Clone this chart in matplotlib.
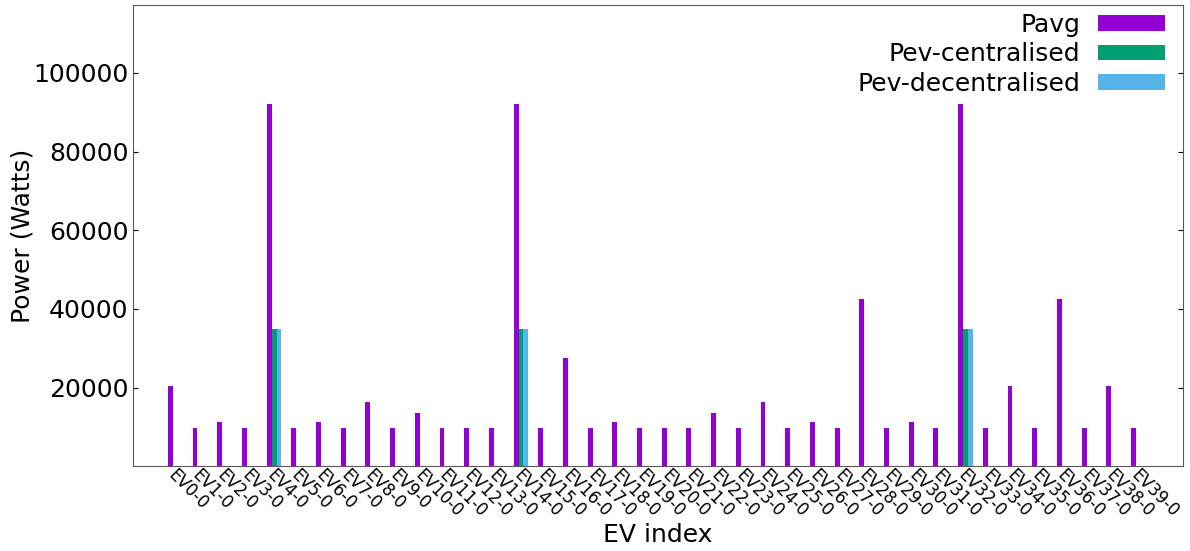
import numpy as np
import matplotlib
matplotlib.use('Agg')
import matplotlib.pyplot as plt
import matplotlib.transforms as mtransforms

# Per-EV power values
EV_LABELS = ["EV%d-0" % i for i in range(40)]

PAVG = [20500, 9800, 11200, 9800, 92000, 9800, 11200, 9800, 16200, 9800,
        13400, 9800, 9800, 9800, 92000, 9800, 27500, 9800, 11200, 9800,
        9800, 9800, 13400, 9800, 16200, 9800, 11200, 9800, 42400, 9800,
        11200, 9800, 92000, 9800, 20500, 9800, 42400, 9800, 20500, 9800]

PEV_CENTRAL = [0] * 40
PEV_DECENTRAL = [0] * 40
for k in (4, 14, 32):
    PEV_CENTRAL[k] = 35000
    PEV_DECENTRAL[k] = 35000

COLORS = ['#9400D3', '#009E73', '#56B4E9']
NAMES = ['Pavg', 'Pev-centralised', 'Pev-decentralised']

fig = plt.figure(figsize=(11.9, 5.51), dpi=100)
ax = fig.add_axes([0.112, 0.154, 0.882, 0.837])

x = np.arange(len(EV_LABELS))
w = 0.2
for off, vals, c, name in zip([0, w, 2 * w], [PAVG, PEV_CENTRAL, PEV_DECENTRAL], COLORS, NAMES):
    ax.bar(x + off, vals, width=w, color=c, label=name)

ax.set_xlim(-1.5, 41)
ax.set_ylim(0, 117300)
ax.set_yticks([20000, 40000, 60000, 80000, 100000])
ax.set_xticks(x)
ax.set_xticklabels(EV_LABELS, rotation=-45, ha='left', fontsize=12)
ax.tick_params(axis='y', labelsize=18, direction='in', right=True)
ax.tick_params(axis='x', direction='in', length=0, pad=2)
# nudge the rotated labels so they hug the axis like the original
shift = mtransforms.ScaledTranslation(-0.06, 0.03, fig.dpi_scale_trans)
for tick in ax.xaxis.get_major_ticks():
    tick.label1.set_transform(tick.label1.get_transform() + shift)
for s in ax.spines.values():
    s.set_color('0.35')

ax.set_xlabel('EV index', fontsize=18, labelpad=1.5)
ax.set_ylabel('Power (Watts)', fontsize=18, labelpad=-1)

ax.legend(loc='upper right', bbox_to_anchor=(0.983, 0.983), fontsize=18,
          frameon=False, markerfirst=False, labelspacing=0.22,
          handlelength=2.7, handleheight=0.6, handletextpad=0.7,
          borderaxespad=0, borderpad=0)

fig.savefig('out.png', dpi=100)
